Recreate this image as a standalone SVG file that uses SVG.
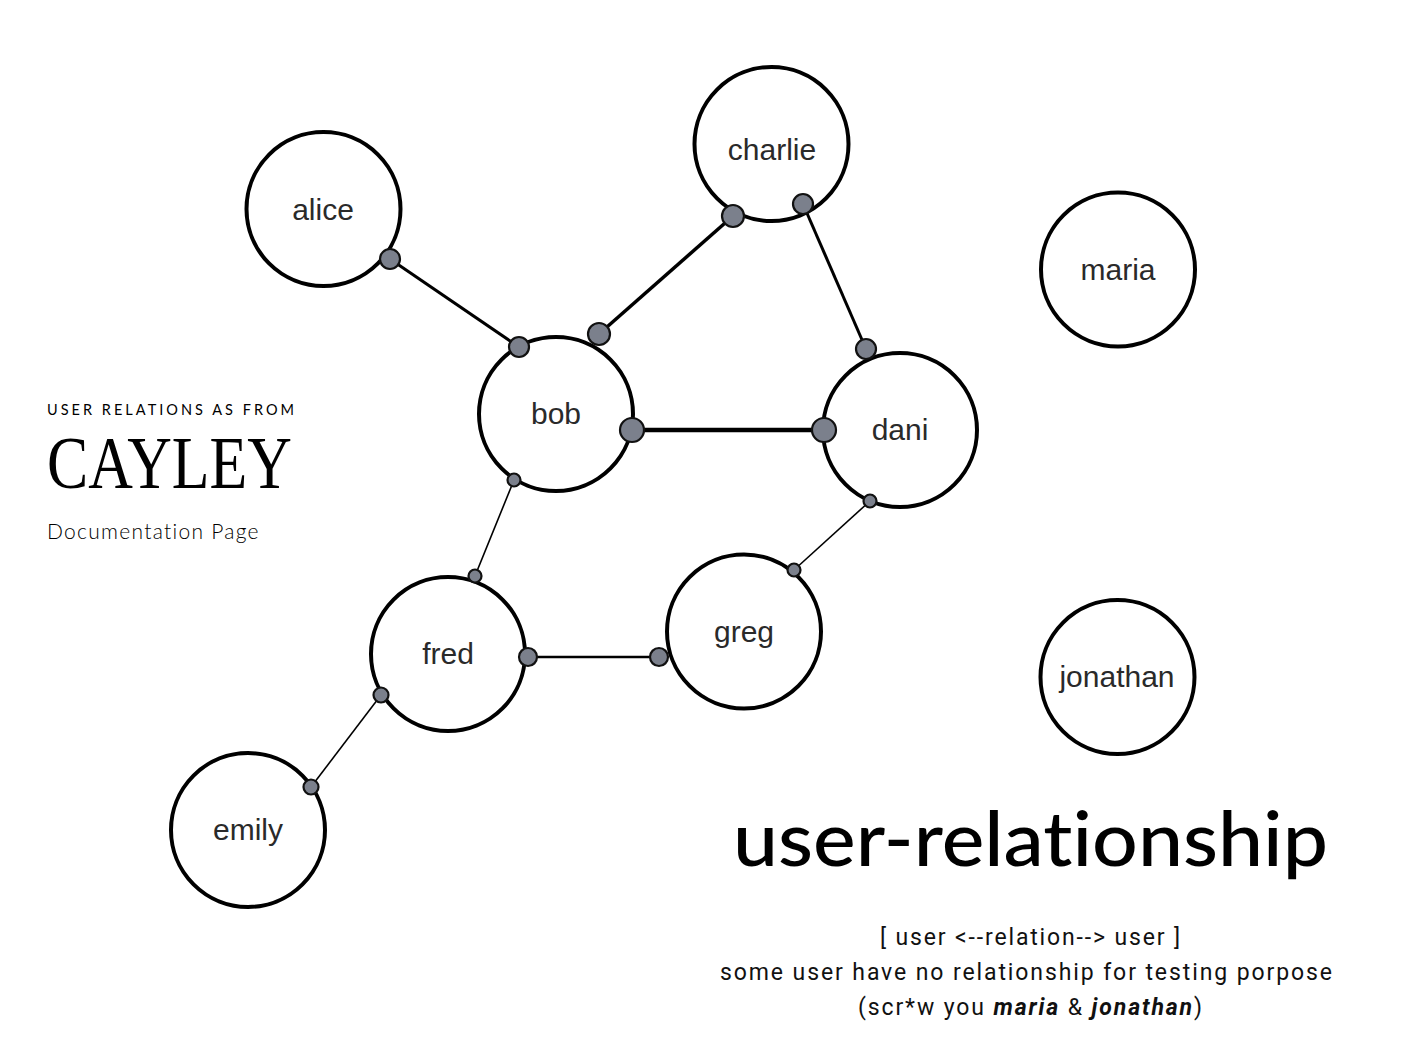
<svg xmlns="http://www.w3.org/2000/svg" width="1404" height="1052" viewBox="0 0 1404 1052">
<style>
.node circle{fill:#fff;stroke:#000;stroke-width:4}
.node text{font-family:"Liberation Sans",Arial,sans-serif;font-size:30px;fill:#2a2a2a;text-anchor:middle}
.edge line{stroke:#000}
.dot{fill:#7b808c;stroke:#111;stroke-width:2.2}
.small{font-family:"Lato","DejaVu Sans",sans-serif;fill:#000}
.body{font-family:Roboto,"Liberation Sans",sans-serif;font-size:23px;fill:#111;text-anchor:middle}
</style>
<rect width="1404" height="1052" fill="#fff"/>
<g id="connectors">
<g class="edge" id="e-alice-bob"><line x1="390" y1="259" x2="519" y2="347" stroke-width="3"/></g>
<g class="edge" id="e-charlie-bob"><line x1="733" y1="216" x2="599" y2="334" stroke-width="3.5"/></g>
<g class="edge" id="e-charlie-dani"><line x1="803" y1="204" x2="866" y2="349" stroke-width="3"/></g>
<g class="edge" id="e-bob-dani"><line x1="632" y1="430" x2="824" y2="430" stroke-width="4.5"/></g>
<g class="edge" id="e-bob-fred"><line x1="514" y1="480" x2="475" y2="576" stroke-width="1.6"/></g>
<g class="edge" id="e-dani-greg"><line x1="870" y1="501" x2="794" y2="570" stroke-width="1.6"/></g>
<g class="edge" id="e-fred-greg"><line x1="528" y1="657" x2="659" y2="657" stroke-width="2.6"/></g>
<g class="edge" id="e-fred-emily"><line x1="381" y1="695" x2="311" y2="787" stroke-width="1.6"/></g>
</g>
<g id="node-alice" class="node"><circle cx="323.5" cy="209" r="77"/><text x="323" y="220">alice</text></g>
<g id="node-charlie" class="node"><circle cx="771.5" cy="144" r="77"/><text x="772" y="160">charlie</text></g>
<g id="node-maria" class="node"><circle cx="1118" cy="269.5" r="77"/><text x="1118" y="280">maria</text></g>
<g id="node-bob" class="node"><circle cx="556" cy="414" r="77"/><text x="556" y="424">bob</text></g>
<g id="node-dani" class="node"><circle cx="900" cy="430" r="77"/><text x="900" y="440">dani</text></g>
<g id="node-fred" class="node"><circle cx="448" cy="654" r="77"/><text x="448" y="664">fred</text></g>
<g id="node-greg" class="node"><circle cx="744" cy="631.5" r="77"/><text x="744" y="642">greg</text></g>
<g id="node-jonathan" class="node"><circle cx="1117.5" cy="677" r="77"/><text x="1117" y="687">jonathan</text></g>
<g id="node-emily" class="node"><circle cx="248" cy="830" r="77"/><text x="248" y="840">emily</text></g>
<g id="endpoints">
<circle class="dot" cx="390" cy="259" r="10"/><circle class="dot" cx="519" cy="347" r="10"/>
<circle class="dot" cx="733" cy="216" r="11"/><circle class="dot" cx="599" cy="334" r="11"/>
<circle class="dot" cx="803" cy="204" r="10"/><circle class="dot" cx="866" cy="349" r="10"/>
<circle class="dot" cx="632" cy="430" r="12"/><circle class="dot" cx="824" cy="430" r="12"/>
<circle class="dot" cx="514" cy="480" r="6.5"/><circle class="dot" cx="475" cy="576" r="6.5"/>
<circle class="dot" cx="870" cy="501" r="6.5"/><circle class="dot" cx="794" cy="570" r="6.5"/>
<circle class="dot" cx="528" cy="657" r="9"/><circle class="dot" cx="659" cy="657" r="9"/>
<circle class="dot" cx="381" cy="695" r="7.5"/><circle class="dot" cx="311" cy="787" r="7.5"/>
</g>
<g id="title-left">
<text class="small" x="47" y="415" font-size="14.5" letter-spacing="3" textLength="250" lengthAdjust="spacing">USER RELATIONS AS FROM</text>
<text x="47" y="488" font-family="'Liberation Serif','DejaVu Serif',serif" font-size="74" fill="#000" textLength="245" lengthAdjust="spacingAndGlyphs">CAYLEY</text>
<text class="small" x="47" y="539" font-size="21" font-weight="300" letter-spacing="1.5" textLength="213" lengthAdjust="spacing">Documentation Page</text>
</g>
<g id="title-right">
<text x="733" y="866" font-family="Lato,'Open Sans',sans-serif" font-size="76" font-weight="500" fill="#000" style="font-variant-ligatures:none" textLength="595" lengthAdjust="spacingAndGlyphs">user-relationship</text>
<text class="body" x="1030" y="945" textLength="300" lengthAdjust="spacing">[ user &lt;--relation--&gt; user ]</text>
<text class="body" x="1026" y="980" textLength="612" lengthAdjust="spacing">some user have no relationship for testing porpose</text>
<text class="body" x="1030" y="1015" textLength="344" lengthAdjust="spacing">(scr*w you <tspan font-weight="bold" font-style="italic">maria</tspan> &amp; <tspan font-weight="bold" font-style="italic">jonathan</tspan>)</text>
</g>
</svg>
